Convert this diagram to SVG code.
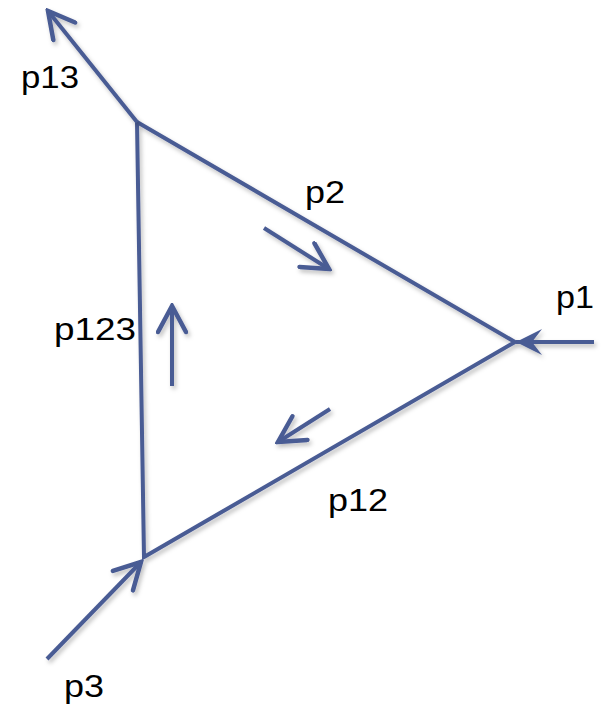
<svg xmlns="http://www.w3.org/2000/svg" width="604" height="704" viewBox="0 0 604 704">
<style>
.l{stroke:#4A5B94;stroke-width:4;fill:none;stroke-linecap:butt;stroke-linejoin:miter}
.t{font-family:"Liberation Sans",Arial,sans-serif;font-size:31px;fill:#000}
</style>
<defs>
<filter id="sh" x="-20%" y="-20%" width="140%" height="140%">
<feDropShadow dx="2" dy="3" stdDeviation="2" flood-color="#000" flood-opacity="0.25"/>
</filter>
<marker id="v" viewBox="0 0 32 32" refX="29" refY="16" markerWidth="32" markerHeight="32" orient="auto" markerUnits="userSpaceOnUse">
<path d="M3,2 L29,16 L3,30" fill="none" stroke="#4A5B94" stroke-width="4.5" stroke-linecap="round" stroke-linejoin="miter"/>
</marker>
<marker id="s" viewBox="0 0 28 28" refX="26" refY="14" markerWidth="28" markerHeight="28" orient="auto" markerUnits="userSpaceOnUse">
<path d="M0,1 L26,14 L0,27 L10,14 Z" fill="#4A5B94"/>
</marker>
</defs>
<g id="triangle" filter="url(#sh)">
<polygon class="l" points="137,122 515,342 144,557"/>
</g>
<g id="connectors" filter="url(#sh)">
<line class="l" x1="137" y1="122" x2="48" y2="11" marker-end="url(#v)"/>
<line class="l" x1="594" y1="342" x2="516" y2="342" marker-end="url(#s)"/>
<line class="l" x1="47" y1="659" x2="141" y2="562" marker-end="url(#v)"/>
<line class="l" x1="264" y1="228" x2="329" y2="269" marker-end="url(#v)"/>
<line class="l" x1="172" y1="386" x2="172" y2="306" marker-end="url(#v)"/>
<line class="l" x1="330" y1="409" x2="278" y2="442" marker-end="url(#v)"/>
</g>
<g id="labels">
<text class="t" x="21" y="88" textLength="58" lengthAdjust="spacingAndGlyphs">p13</text>
<text class="t" x="305" y="203" textLength="40" lengthAdjust="spacingAndGlyphs">p2</text>
<text class="t" x="556" y="308" textLength="38" lengthAdjust="spacingAndGlyphs">p1</text>
<text class="t" x="54" y="340" textLength="82" lengthAdjust="spacingAndGlyphs">p123</text>
<text class="t" x="328" y="511" textLength="60" lengthAdjust="spacingAndGlyphs">p12</text>
<text class="t" x="64" y="697" textLength="40" lengthAdjust="spacingAndGlyphs">p3</text>
</g>
</svg>
